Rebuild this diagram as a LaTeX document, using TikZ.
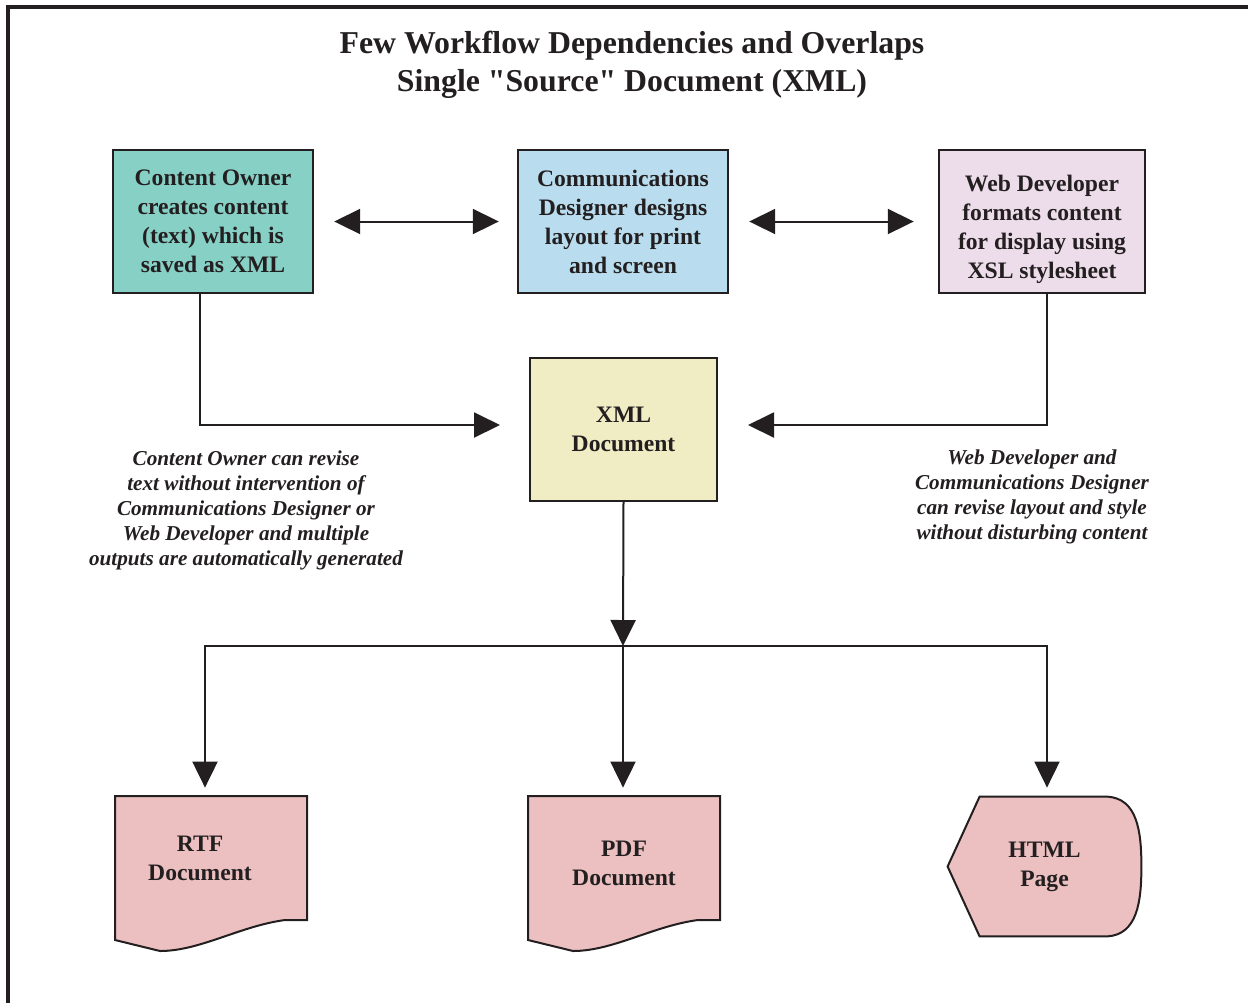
\documentclass[tikz,border=0pt]{standalone}
\usepackage{fontspec}
\setmainfont{Liberation Serif}[Ligatures=TeXOff]
\usetikzlibrary{arrows.meta,positioning,calc,backgrounds}

\definecolor{ink}{RGB}{35,31,32}
\definecolor{ownerteal}{RGB}{135,208,197}
\definecolor{designblue}{RGB}{185,221,238}
\definecolor{webpink}{RGB}{237,220,234}
\definecolor{xmlyellow}{RGB}{240,236,196}
\definecolor{outpink}{RGB}{236,192,192}

\begin{document}
\begin{tikzpicture}[x=0.5pt,y=-0.5pt, line join=miter, color=ink,
  style={font=\bfseries\fontsize{11.8}{14.5}\selectfont},
  box/.style={draw=ink, line width=1.2pt, align=center, inner sep=0pt},
  outbox/.style={align=center, inner sep=0pt},
  outline/.style={draw=ink, fill=outpink, line width=1pt},
  flow/.style={line width=1pt, -{Triangle[length=13pt,width=12.5pt]}},
  both/.style={line width=1pt, {Triangle[length=13pt,width=12.5pt]}-{Triangle[length=13pt,width=12.5pt]}},
  note/.style={align=center, font=\bfseries\itshape\fontsize{10.6}{12.6}\selectfont}]
\useasboundingbox (0,0) rectangle (1248,1003);
\draw[line width=2pt] (1248,7)--(8,7)--(8,1003);

\node[align=center, font=\bfseries\fontsize{15.9}{19}\selectfont] (title) at (632,65)
  {Few Workflow Dependencies and Overlaps\\Single "Source" Document (XML)};

% top row
\node[box, fill=ownerteal, minimum width=100pt, minimum height=71.5pt] (owner) at (213,221.5)
  {Content Owner\\creates content\\(text) which is\\saved as XML};
\node[box, fill=designblue, minimum width=105pt, minimum height=71.5pt] (designer) at (623,221.5)
  {Communications\\Designer designs\\layout for print\\and screen};
\node[box, fill=webpink, minimum width=103pt, minimum height=71.5pt] (webdev) at (1042,221.5)
  {\rule{0pt}{16pt}Web Developer\\formats content\\for display using\\XSL stylesheet};
\draw[both, shorten <=10pt, shorten >=9pt] (owner.east)--(designer.west);
\draw[both, shorten <=10pt, shorten >=12pt] (designer.east)--(webdev.west);

% source document
\node[box, fill=xmlyellow, minimum width=93.5pt, minimum height=71.5pt] (xml) at (623.5,429.5)
  {XML\\Document};
\coordinate (xinl) at (500,425);
\coordinate (xinr) at (748,425);
\draw[flow] ([xshift=-6.5pt]owner.south) |- (xinl);
\draw[flow] ([xshift=2.5pt]webdev.south) |- (xinr);

\node[note] (noteleft) at (246,510.5) {Content Owner can revise\\text without intervention of\\Communications Designer or\\Web Developer and multiple\\outputs are automatically generated};
\node[note] (noteright) at (1032,497) {Web Developer and\\Communications Designer\\can revise layout and style\\without disturbing content};

% outputs
\node[outbox, minimum height=62pt] (rtf) at (200,858) {RTF\\Document};
\node[outbox, minimum height=67pt] (pdf) at (624,863) {PDF\\Document};
\node[outbox, minimum width=96.5pt, minimum height=69.5pt] (html) at (1044.5,866.5) {HTML\\Page};
\begin{scope}[on background layer]
\foreach \d/\l/\t in {rtf/85/62, pdf/96/67}
  \draw[outline] ([shift={(-\l,-\t)}]\d.center)--++(192,0)--++(0,124)--++(-22,0)
    .. controls +(-45,6) and +(40,0) .. ++(-125,31)--++(-45,-11)--cycle;
\draw[outline] ([xshift=16pt]html.north west)--([xshift=-17pt]html.north east)
  .. controls +(30,2) and +(0,-35) .. (html.east)
  .. controls +(0,35) and +(30,-2) .. ([xshift=-17pt]html.south east)
  --([xshift=16pt]html.south west)--(html.west)--cycle;
\end{scope}

\coordinate (split) at (623,646);
\draw[flow] (xml.south)--(split);
\draw[flow, shorten >=4pt] (split) -| ([xshift=2.5pt]rtf.north);
\draw[flow, shorten >=4pt] (split)--(split |- pdf.north);
\draw[flow, shorten >=4.5pt] (split) -| ([xshift=1.25pt]html.north);
\end{tikzpicture}
\end{document}
